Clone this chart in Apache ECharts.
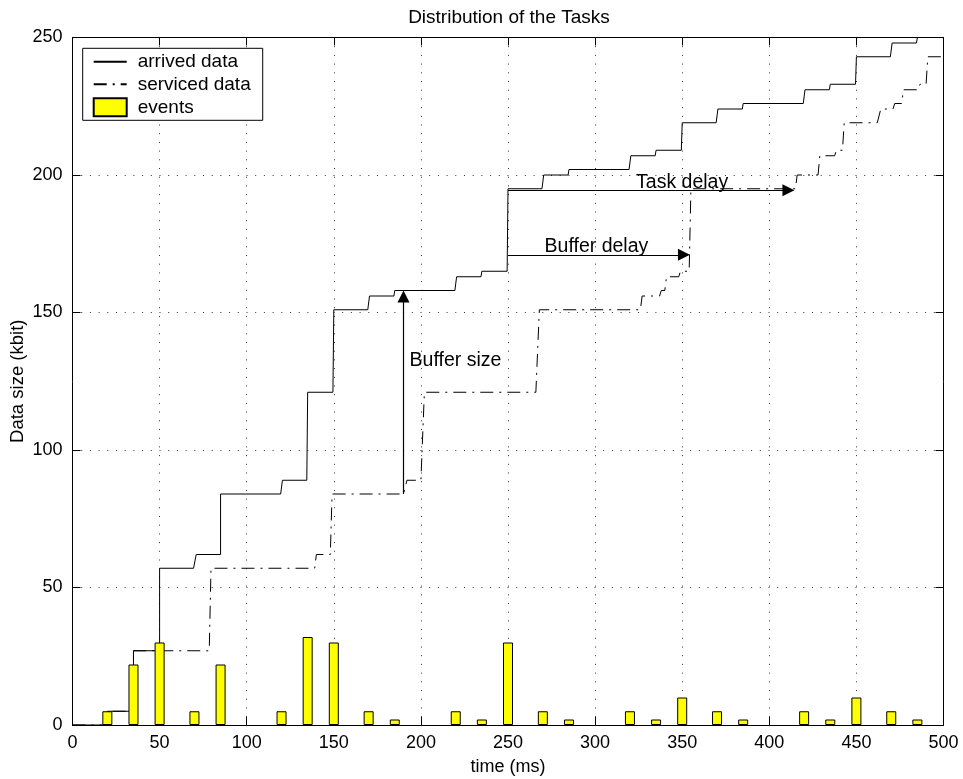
<!DOCTYPE html>
<html>
<head>
<meta charset="utf-8">
<script src="https://cdn.jsdelivr.net/npm/echarts@6/dist/echarts.min.js"></script>
<style>
  html, body { margin: 0; padding: 0; background: #fff; }
  #chart { width: 963px; height: 779px; }
</style>
</head>
<body>
<div id="chart"></div>
<script>
// ---- Data ----
const eventTimes = [20, 35, 50, 70, 85, 120, 135, 150, 170, 185, 220, 235, 250, 270, 285, 320, 335, 350, 370, 385, 420, 435, 450, 470, 485];
const eventSizes = [5, 22, 30, 5, 22, 5, 32, 30, 5, 2, 5, 2, 30, 5, 2, 5, 2, 10, 5, 2, 5, 2, 10, 5, 2];

const arrivedTime = [0, 20, 20, 35, 35, 50, 50, 69.5, 71, 85, 85, 119.5, 120.5, 134.5, 135, 149.5, 150, 169.5, 170.5, 184.5, 185, 219.5, 220.5, 234.5, 235, 249.5, 250, 269.5, 270.5, 284.5, 285, 319.5, 320.5, 334.5, 335, 349.5, 350, 369.5, 370.5, 384.5, 385, 419.5, 420.5, 434.5, 435, 449.5, 450, 469.5, 470.5, 484.5, 485, 500];
const arrivedData = [0, 0, 5, 5, 27, 27, 57, 57, 62, 62, 84, 84, 89, 89, 121, 121, 151, 151, 156, 156, 158, 158, 163, 163, 165, 165, 195, 195, 200, 200, 202, 202, 207, 207, 209, 209, 219, 219, 224, 224, 226, 226, 231, 231, 233, 233, 243, 243, 248, 248, 250, 250];

const servicedTime = [0, 20, 20, 35, 35, 78.5, 79.5, 139, 140, 148, 149, 190, 192, 200, 202, 266, 268, 326, 327, 337, 338, 340, 341, 348, 349, 354, 355, 415, 416, 428, 429, 437.5, 438.5, 442, 443, 462, 464, 471, 472, 476, 477, 485.5, 486.5, 490, 491, 500];
const servicedData = [0, 0, 5, 5, 27, 27, 57, 57, 62, 62, 84, 84, 89, 89, 121, 121, 151, 151, 156, 156, 158, 158, 163, 163, 165, 165, 195, 195, 200, 200, 207, 207, 209, 209, 219, 219, 224, 224, 226, 226, 231, 231, 233, 233, 243, 243];

const xTicks = [0, 500, 50];   // min, max, interval
const yTicks = [0, 250, 50];

const arrowFrom = [[190, 84], [250, 171], [250, 194.5]];
const arrowTo   = [[190, 155.8], [351, 171], [411, 194.5]];

const noteTexts = ['Buffer size', 'Buffer delay', 'Task delay'];
const noteAt = [[193.5, 132.6], [271, 173.8], [323.5, 197.4]];

const seriesNames = ['arrived data', 'serviced data', 'events'];
const titleText = 'Distribution of the Tasks';
const xName = 'time (ms)';
const yName = 'Data size (kbit)';

// ---- Build options ----
const FONT = 'Liberation Sans, Arial, Helvetica, sans-serif';
const FS = 18;
const zip = (a, b) => a.map((v, i) => [v, b[i]]);

const dotted = { type: [1, 7.7], color: '#000', width: 1, opacity: 0.8 };

function valAxis(range, pos, extra) {
  return Object.assign({
    type: 'value', min: range[0], max: range[1], interval: range[2], position: pos,
    axisLine: { show: true, onZero: false, lineStyle: { color: '#000', width: 1 } },
    axisTick: { show: true, inside: true, length: 8, lineStyle: { color: '#000', width: 1 } },
    axisLabel: { show: false },
    splitLine: { show: false }
  }, extra || {});
}

const option = {
  backgroundColor: '#fff',
  animation: false,
  textStyle: { fontFamily: FONT },
  title: {
    text: titleText, left: 504, top: 3, textAlign: 'center',
    textStyle: { fontFamily: FONT, fontSize: 19, fontWeight: 'normal', color: '#000' }
  },
  grid: { left: 72.5, right: 19.5, top: 37.5, bottom: 54, containLabel: false, outerBoundsMode: 'none' },
  legend: {
    data: [
      { name: seriesNames[0], itemStyle: { opacity: 0 } },
      { name: seriesNames[1], itemStyle: { opacity: 0 } },
      { name: seriesNames[2], icon: 'rect' }
    ],
    orient: 'vertical', left: 82.7, top: 48.3,
    padding: [4, 12, 3, 10], itemGap: 3.5, itemWidth: 33, itemHeight: 18,
    backgroundColor: '#fff', borderColor: '#000', borderWidth: 1, borderRadius: 0,
    textStyle: { fontFamily: FONT, fontSize: 19, color: '#000', padding: [0, 0, 0, 6] }
  },
  xAxis: [
    valAxis(xTicks, 'bottom', {
      axisLabel: { show: true, fontFamily: FONT, fontSize: FS, color: '#000', margin: 9 },
      splitLine: { show: true, lineStyle: dotted },
      name: xName, nameLocation: 'middle', nameGap: 33, nameMoveOverlap: false,
      nameTextStyle: { fontFamily: FONT, fontSize: 18, color: '#000' }
    }),
    valAxis(xTicks, 'top')
  ],
  yAxis: [
    valAxis(yTicks, 'left', {
      axisLabel: { show: true, fontFamily: FONT, fontSize: FS, color: '#000', margin: 10 },
      splitLine: { show: true, lineStyle: dotted },
      name: yName, nameLocation: 'middle', nameGap: 45, nameMoveOverlap: false,
      nameTextStyle: { fontFamily: FONT, fontSize: 18.5, color: '#000' }
    }),
    valAxis(yTicks, 'right')
  ],
  series: [
    {
      name: seriesNames[0], type: 'line', xAxisIndex: 0, yAxisIndex: 0,
      data: zip(arrivedTime, arrivedData), symbol: 'none', showSymbol: false,
      lineStyle: { color: '#000', width: 1 }, itemStyle: { color: '#000' }, z: 3,
      markLine: {
        silent: true, symbol: ['none', 'triangle'], symbolSize: 12,
        lineStyle: { color: '#000', width: 1.2, type: 'solid' },
        itemStyle: { color: '#000', opacity: 1 },
        label: { show: false },
        data: arrowFrom.map((f, i) => [{ coord: f }, { coord: arrowTo[i] }])
      },
      markPoint: {
        silent: true, symbol: 'circle', symbolSize: 0,
        label: {
          show: true, position: [0, 0], align: 'left', verticalAlign: 'middle',
          fontFamily: FONT, fontSize: 19.5, color: '#000',
          formatter: p => p.name
        },
        data: noteAt.map((c, i) => ({ name: noteTexts[i], coord: c }))
      }
    },
    {
      name: seriesNames[1], type: 'line', xAxisIndex: 0, yAxisIndex: 0,
      data: zip(servicedTime, servicedData), symbol: 'none', showSymbol: false,
      lineStyle: { color: '#000', width: 1, type: [13, 6, 2, 6] }, itemStyle: { color: '#000' }, z: 3
    },
    {
      name: seriesNames[2], type: 'bar', xAxisIndex: 0, yAxisIndex: 0,
      data: zip(eventTimes, eventSizes), barWidth: 10,
      itemStyle: { color: '#ffff00', borderColor: '#000', borderWidth: 1 }, z: 4
    }
  ]
};

const chart = echarts.init(document.getElementById('chart'), null, { renderer: 'canvas' });
chart.setOption(option);
</script>
</body>
</html>
